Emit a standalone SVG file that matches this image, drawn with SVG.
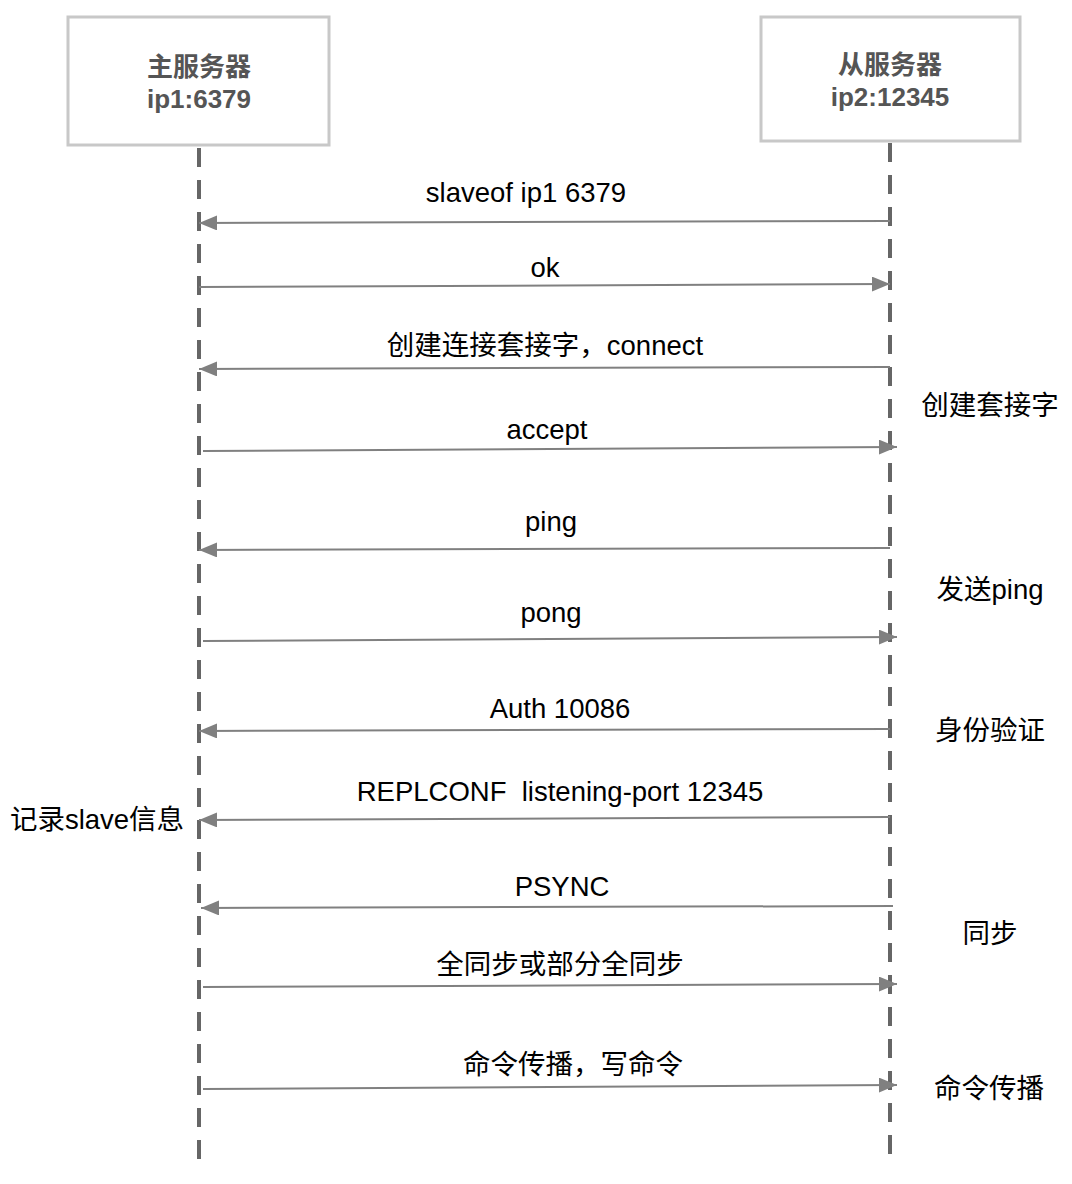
<svg xmlns="http://www.w3.org/2000/svg" width="1072" height="1184" viewBox="0 0 1072 1184">
<defs>
<marker id="ah" viewBox="0 0 18 15" refX="18" refY="7.5" markerWidth="18" markerHeight="15" markerUnits="userSpaceOnUse" orient="auto">
<path d="M0,0 L18,7.5 L0,15 Z" fill="#808080"/>
</marker>
<style>
.box{fill:#fff;stroke:#c8c8c8;stroke-width:3}
.hd{font-family:"Liberation Sans","Noto Sans CJK SC",sans-serif;font-size:26px;font-weight:bold;fill:#555;text-anchor:middle}
.life{stroke:#666;stroke-width:4;stroke-dasharray:19 13;fill:none}
.msg{stroke:#808080;stroke-width:2;fill:none;marker-end:url(#ah)}
.lb{font-family:"Liberation Sans","Noto Sans CJK SC",sans-serif;font-size:27.5px;fill:#000;text-anchor:middle;white-space:pre}
</style>
</defs>
<rect width="1072" height="1184" fill="#fff"/>
<g id="master">
<rect class="box" x="68" y="17" width="261" height="128"/>
<text class="hd" x="199" y="76">主服务器</text>
<text class="hd" x="199" y="108">ip1:6379</text>
</g>
<g id="slave">
<rect class="box" x="761" y="17" width="259" height="124"/>
<text class="hd" x="890" y="74">从服务器</text>
<text class="hd" x="890" y="106">ip2:12345</text>
</g>
<g id="lifelines">
<line class="life" x1="199" y1="148" x2="199" y2="1160"/>
<line class="life" x1="890" y1="143" x2="890" y2="1155"/>
</g>
<g id="connectors">
<line class="msg" x1="890" y1="221" x2="199" y2="223"/>
<line class="msg" x1="199" y1="287" x2="890" y2="284"/>
<line class="msg" x1="890" y1="367" x2="199" y2="369"/>
<line class="msg" x1="203" y1="451" x2="897" y2="447"/>
<line class="msg" x1="890" y1="548" x2="199" y2="550"/>
<line class="msg" x1="203" y1="641" x2="897" y2="637"/>
<line class="msg" x1="890" y1="729" x2="199" y2="731"/>
<line class="msg" x1="890" y1="817" x2="199" y2="820"/>
<line class="msg" x1="893" y1="906" x2="201" y2="908"/>
<line class="msg" x1="203" y1="987" x2="897" y2="984"/>
<line class="msg" x1="203" y1="1089" x2="897" y2="1085"/>
</g>
<g id="labels">
<text class="lb" x="526" y="202">slaveof ip1 6379</text>
<text class="lb" x="545" y="277">ok</text>
<text class="lb" x="545" y="355">创建连接套接字，connect</text>
<text class="lb" x="547" y="439">accept</text>
<text class="lb" x="551" y="531">ping</text>
<text class="lb" x="551" y="622">pong</text>
<text class="lb" x="560" y="718">Auth 10086</text>
<text class="lb" x="560" y="801" xml:space="preserve">REPLCONF  listening-port 12345</text>
<text class="lb" x="562" y="896">PSYNC</text>
<text class="lb" x="560" y="974">全同步或部分全同步</text>
<text class="lb" x="573" y="1074">命令传播，写命令</text>
</g>
<g id="notes">
<text class="lb" x="990" y="415">创建套接字</text>
<text class="lb" x="990" y="599">发送ping</text>
<text class="lb" x="990" y="740">身份验证</text>
<text class="lb" x="990" y="943">同步</text>
<text class="lb" x="989" y="1098">命令传播</text>
<text class="lb" x="97" y="829">记录slave信息</text>
</g>
</svg>
